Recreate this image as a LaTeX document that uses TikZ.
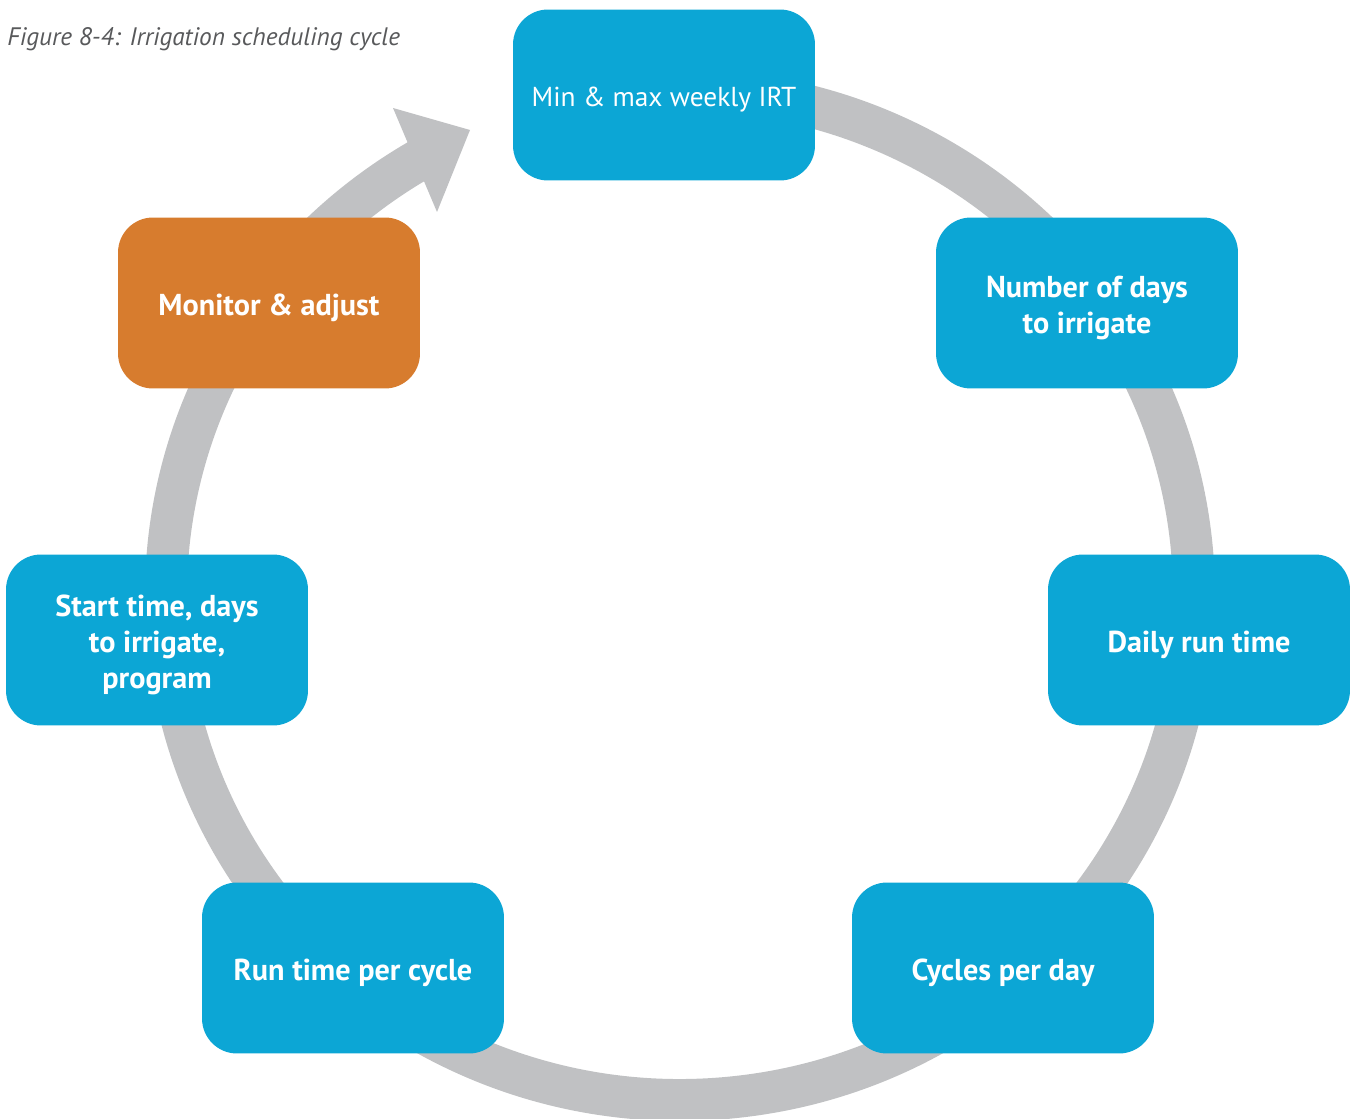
\documentclass[tikz,border=0pt]{standalone}
\usepackage{fontspec}
\setmainfont{PT Sans}
\usepackage{tikz}
\usetikzlibrary{positioning,calc}
\definecolor{stepblue}{RGB}{12,166,213}
\definecolor{steporange}{RGB}{215,124,46}
\definecolor{ringgray}{RGB}{192,193,195}
\definecolor{captiongray}{RGB}{88,89,91}

\begin{document}
\begin{tikzpicture}[
    x=0.02cm, y=-0.02cm,
    stepbox/.style={rectangle, rounded corners=0.7cm, fill=stepblue,
        minimum width=6.04cm, minimum height=3.42cm, inner sep=0pt},
    steptext/.style={text=white, align=center, yshift=-0.1cm,
        font=\fontsize{17.2}{20.4}\selectfont\bfseries},
    ring/.style={draw=ringgray, line width=0.84cm}
]
    \useasboundingbox (0,0) rectangle (1354,1118);

    % grey cycle ring and its head
    \draw[ring] (680,595) ++(-95:514 and 505) arc[start angle=-95, end angle=240, x radius=514, y radius=505];
    \coordinate (headA) at (393,108);
    \coordinate (headB) at (470,130);
    \coordinate (headC) at (437,212);
    \fill[ringgray] (headA) -- (headB) -- (headC) -- cycle;

    \node[anchor=west, inner sep=0pt, text=captiongray, font=\fontsize{14.4}{17}\selectfont\itshape] (caption) at (7,39) {Figure 8-4: Irrigation scheduling cycle};

    \node[stepbox, label={[steptext, font=\fontsize{15.6}{20.4}\selectfont]center:Min \& max weekly IRT}] (weekly) at (664,95) {};
    \node[stepbox, label={[steptext]center:{Number of days\\to irrigate}}] (days) at (1087,303) {};
    \node[stepbox, label={[steptext]center:Daily run time}] (daily) at (1199,640) {};
    \node[stepbox, label={[steptext]center:Cycles per day}] (cycles) at (1003,968) {};
    \node[stepbox, label={[steptext]center:Run time per cycle}] (runtime) at (353,968) {};
    \node[stepbox, label={[steptext]center:{Start time, days\\to irrigate,\\program}}] (start) at (157,640) {};
    \node[stepbox, fill=steporange, label={[steptext]center:Monitor \& adjust}] (monitor) at (269,303) {};
\end{tikzpicture}
\end{document}
